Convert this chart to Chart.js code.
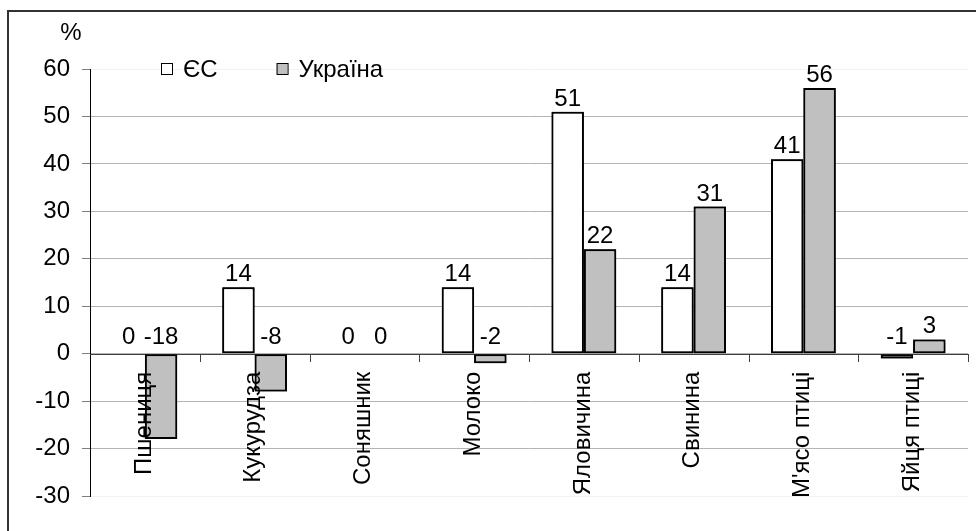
<!DOCTYPE html>
<html>
<head>
<meta charset="utf-8">
<script src="https://cdn.jsdelivr.net/npm/chart.js@4"></script>
<style>
html,body{margin:0;padding:0;background:#fff;}
#wrap{position:relative;width:976px;height:531px;}
</style>
</head>
<body>
<div id="wrap"><canvas id="c" width="976" height="531"></canvas></div>
<script>
const categories = ["Пшениця","Кукурудза","Соняшник","Молоко","Яловичина","Свинина","М'ясо птиці","Яйця птиці"];
const seriesNames = ["ЄС","Україна"];
const valuesEU = [0,14,0,14,51,14,41,-1];
const valuesUA = [-18,-8,0,-2,22,31,56,3];
const yTicks = [-30,-20,-10,0,10,20,30,40,50,60];
const yUnit = "%";

const FONT = "'Liberation Sans', Arial, sans-serif";
const FS = 24;

const decorPlugin = {
  id: 'decor',
  afterDraw(chart) {
    const ctx = chart.ctx;
    const xs = chart.scales.x, ys = chart.scales.y;
    const area = chart.chartArea;
    const zeroY = ys.getPixelForValue(0);
    ctx.save();
    // outer frame
    ctx.strokeStyle = '#333';
    ctx.lineWidth = 2;
    ctx.strokeRect(8, 11, 1100, 1100);
    // category axis at zero
    ctx.strokeStyle = '#404040';
    ctx.lineWidth = 1;
    ctx.beginPath();
    ctx.moveTo(area.left, Math.round(zeroY) + 0.5);
    ctx.lineTo(area.right, Math.round(zeroY) + 0.5);
    const n = categories.length;
    const cw = (area.right - area.left) / n;
    for (let i = 1; i <= n; i++) {
      const x = Math.round(area.left + i * cw) + 0.5;
      ctx.moveTo(x, Math.round(zeroY));
      ctx.lineTo(x, Math.round(zeroY) + 8);
    }
    ctx.stroke();
    // redraw bars over axis line
    chart.data.datasets.forEach((ds, di) => {
      chart.getDatasetMeta(di).data.forEach(el => el.draw(ctx));
    });
    // category labels
    ctx.fillStyle = '#000';
    ctx.font = FS + 'px ' + FONT;
    categories.forEach((c, i) => {
      const x = xs.getPixelForValue(i);
      ctx.save();
      ctx.translate(x - 1, zeroY + 18);
      ctx.rotate(-Math.PI / 2);
      ctx.textAlign = 'right';
      ctx.textBaseline = 'middle';
      ctx.fillText(c, 0, 0);
      ctx.restore();
    });
    // data labels
    ctx.textAlign = 'center';
    ctx.textBaseline = 'alphabetic';
    chart.data.datasets.forEach((ds, di) => {
      const meta = chart.getDatasetMeta(di);
      meta.data.forEach((el, i) => {
        const v = ds.data[i];
        let y;
        if (v > 0) y = el.y - 6; else y = zeroY - 10;
        ctx.fillText(String(v), el.x, y);
      });
    });
    // unit label
    ctx.textAlign = 'center';
    ctx.fillText(yUnit, 71, 40);
    // legend
    let lx = 161;
    const ly = 63;
    ctx.textAlign = 'left';
    chart.data.datasets.forEach((ds) => {
      ctx.fillStyle = ds.backgroundColor;
      ctx.fillRect(lx, ly, 11, 11);
      ctx.strokeStyle = '#000';
      ctx.lineWidth = 1;
      ctx.strokeRect(lx + 0.5, ly + 0.5, 11, 11);
      ctx.fillStyle = '#000';
      ctx.fillText(ds.label, lx + 22, ly + 14);
      lx += 22 + ctx.measureText(ds.label).width + 59;
    });
    ctx.restore();
  }
};

new Chart(document.getElementById('c'), {
  type: 'bar',
  data: {
    labels: categories,
    datasets: [
      { label: seriesNames[0], data: valuesEU, backgroundColor: '#ffffff', borderColor: '#000', borderWidth: 2, borderSkipped: false },
      { label: seriesNames[1], data: valuesUA, backgroundColor: '#c0c0c0', borderColor: '#000', borderWidth: 2, borderSkipped: false }
    ]
  },
  options: {
    responsive: false,
    animation: false,
    devicePixelRatio: 1,
    layout: { padding: { left: 0, top: 69, right: 8, bottom: 35 } },
    datasets: { bar: { categoryPercentage: 0.59, barPercentage: 1.0 } },
    plugins: { legend: { display: false }, tooltip: { enabled: false } },
    scales: {
      x: { display: false },
      y: {
        min: -30, max: 60,
        afterBuildTicks(scale) { scale.ticks = yTicks.map(v => ({ value: v })); },
        afterFit(scale) { scale.width = 90; },
        ticks: { color: '#000', font: { family: FONT, size: FS }, padding: 12 },
        grid: {
          color: ctx => (ctx.tick && (ctx.tick.value === 60 || ctx.tick.value === -30)) ? '#f2f2f2' : '#b4b4b4',
          tickColor: '#808080',
          tickLength: 8,
          lineWidth: 1
        },
        border: { display: true, color: '#000', width: 1 }
      }
    }
  },
  plugins: [decorPlugin]
});
</script>
</body>
</html>
